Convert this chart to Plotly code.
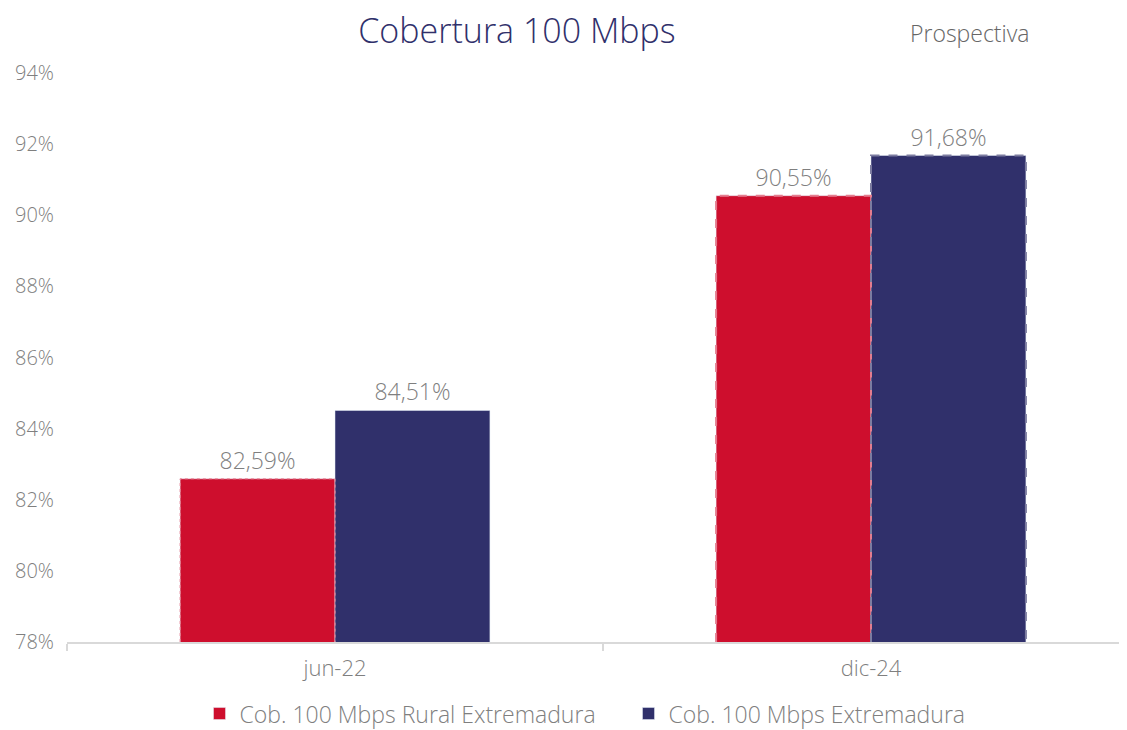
import plotly.graph_objects as go

# Data
categories = ["jun-22", "dic-24"]
rural_values = [82.59, 90.55]
total_values = [84.51, 91.68]
series_names = ["Cob. 100 Mbps Rural Extremadura", "Cob. 100 Mbps Extremadura"]
y_ticks = [78, 80, 82, 84, 86, 88, 90, 92, 94]

RED = "#CE0E2D"
NAVY = "#30306B"
GRAY = "#7F7F7F"
FONT = "Open Sans"
W = 300

bar_w = 0.289
x_pos = list(range(len(categories)))


def fmt(v):
    return "{:.2f}%".format(v).replace(".", ",")


def outline(values, offset, idx):
    # polygon around a bar, built from the data value
    xs, ys = [], []
    for i in idx:
        x0 = x_pos[i] + offset
        x1 = x0 + bar_w
        xs += [x0, x0, x1, x1, None]
        ys += [y_ticks[0], values[i], values[i], y_ticks[0], None]
    return xs, ys


fig = go.Figure()

fig.add_trace(go.Bar(x=x_pos, y=rural_values, name=series_names[0],
                     width=bar_w, offset=-bar_w, marker_color=RED,
                     text=[fmt(v) for v in rural_values], textposition="outside",
                     textfont=dict(size=23, color=GRAY, family=FONT, weight=W),
                     cliponaxis=False))
fig.add_trace(go.Bar(x=x_pos, y=total_values, name=series_names[1],
                     width=bar_w, offset=0, marker_color=NAVY,
                     text=[fmt(v) for v in total_values], textposition="outside",
                     textfont=dict(size=23, color=GRAY, family=FONT, weight=W),
                     cliponaxis=False))

# dashed outlines (forecast look)
xs, ys = outline(rural_values, -bar_w, [0])
fig.add_trace(go.Scatter(x=xs, y=ys, mode="lines", showlegend=False, hoverinfo="skip",
                         line=dict(color="#E9899A", width=1, dash="dot"), cliponaxis=False))
xs, ys = outline(rural_values, -bar_w, [1])
fig.add_trace(go.Scatter(x=xs, y=ys, mode="lines", showlegend=False, hoverinfo="skip",
                         line=dict(color="#E47C8E", width=2, dash="dash"), cliponaxis=False))
xs, ys = outline(total_values, 0, [1])
fig.add_trace(go.Scatter(x=xs, y=ys, mode="lines", showlegend=False, hoverinfo="skip",
                         line=dict(color="#7C7CA0", width=2, dash="dash"), cliponaxis=False))

# page body has an 8px margin, so the figure is 8px smaller and shifted
fig.update_layout(
    width=1119, height=722,
    margin=dict(l=59, r=0, t=65, b=88, autoexpand=False),
    plot_bgcolor="white", paper_bgcolor="white",
    font=dict(family=FONT, color=GRAY, size=18, weight=W),
    title=dict(text="Cobertura 100 Mbps", x=0.4245, xref="paper", xanchor="center",
               y=1 - 23 / 722, yanchor="middle",
               font=dict(size=34, color=NAVY, family=FONT, weight=W)),
    barmode="overlay",
    showlegend=True,
    legend=dict(orientation="h", x=0.125, xanchor="left", y=-0.088, yanchor="top",
                font=dict(size=23, color=GRAY, family=FONT, weight=W), itemwidth=30,
                entrywidth=384, entrywidthmode="pixels", tracegroupgap=0),
    xaxis=dict(range=[-0.5, 1.4776], tickvals=x_pos, ticktext=categories,
               showgrid=False, zeroline=False, showline=True, linecolor="#D9D9D9",
               linewidth=1.5, ticks="", tickfont=dict(size=22, color=GRAY),
               minor=dict(ticks="outside", tick0=-0.5, dtick=1, ticklen=7,
                          tickcolor="#D9D9D9", tickwidth=1.5),
               ticklabelstandoff=6, automargin=False),
    yaxis=dict(range=[78, 94], tickvals=y_ticks,
               ticktext=["{}%".format(t) for t in y_ticks], showgrid=False,
               zeroline=False, showline=False, tickfont=dict(size=20, color=GRAY),
               ticklabelstandoff=12, automargin=False),
    annotations=[dict(text="Prospectiva", xref="paper", yref="paper",
                      x=(970 - 67) / 1060, y=1 + (73 - 33) / 569,
                      xanchor="center", yanchor="middle", showarrow=False,
                      font=dict(size=23, color="#666666", family=FONT, weight=W))],
)

fig.write_html("out.html")
